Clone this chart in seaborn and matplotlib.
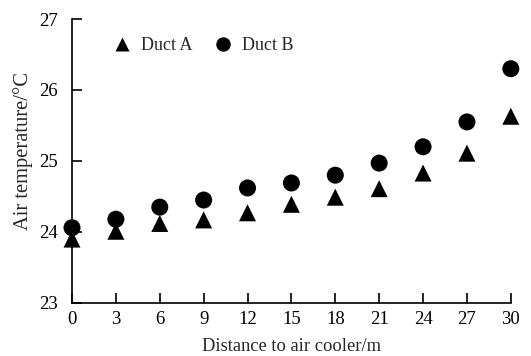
import seaborn as sns
import pandas as pd
import matplotlib
matplotlib.use("Agg")
from matplotlib import pyplot as plt

distance = [0, 3, 6, 9, 12, 15, 18, 21, 24, 27, 30]
duct_a = [23.90, 24.01, 24.12, 24.17, 24.27, 24.39, 24.49, 24.61, 24.83, 25.11, 25.63]
duct_b = [24.06, 24.18, 24.35, 24.45, 24.62, 24.69, 24.80, 24.97, 25.20, 25.55, 26.30]

data = pd.concat([
    pd.DataFrame({"Distance": distance, "Temp": duct_a, "Duct": "Duct A"}),
    pd.DataFrame({"Distance": distance, "Temp": duct_b, "Duct": "Duct B"}),
])

sns.set_style("ticks")
plt.rcParams["font.family"] = ["Liberation Serif", "DejaVu Serif"]

fig = plt.figure(figsize=(5.31, 3.56), dpi=100)
ax = fig.add_axes([0.1356, 0.149, 0.8264, 0.7976])

sns.scatterplot(data=data, x="Distance", y="Temp", hue="Duct", style="Duct",
                markers={"Duct A": "^", "Duct B": "o"},
                palette={"Duct A": "black", "Duct B": "black"},
                s=150, edgecolor="none", ax=ax, clip_on=False, zorder=3)

ax.set_xlim(0, 30)
ax.set_ylim(23, 27)
ax.set_xticks(distance)
ax.set_yticks([23, 24, 25, 26, 27])
ax.tick_params(direction="in", length=7, width=1.2, labelsize=13.5, colors="black")
ax.tick_params(axis="x", pad=6)
ax.tick_params(axis="y", pad=10)
sns.despine(ax=ax)
for side in ["left", "bottom"]:
    ax.spines[side].set_linewidth(1.2)
    ax.spines[side].set_color("black")

ax.set_xlabel("Distance to air cooler/m", fontsize=13.3, labelpad=7)
ax.set_ylabel("Air temperature/°C", fontsize=14.8)
ax.yaxis.set_label_coords(-0.09, 0.535)

leg = ax.legend(loc="upper left", bbox_to_anchor=(0.035, 0.993), ncol=2, frameon=False,
                fontsize=13, handletextpad=0.05, columnspacing=0.7, markerscale=0.85)

fig.savefig("out.png", dpi=100)
